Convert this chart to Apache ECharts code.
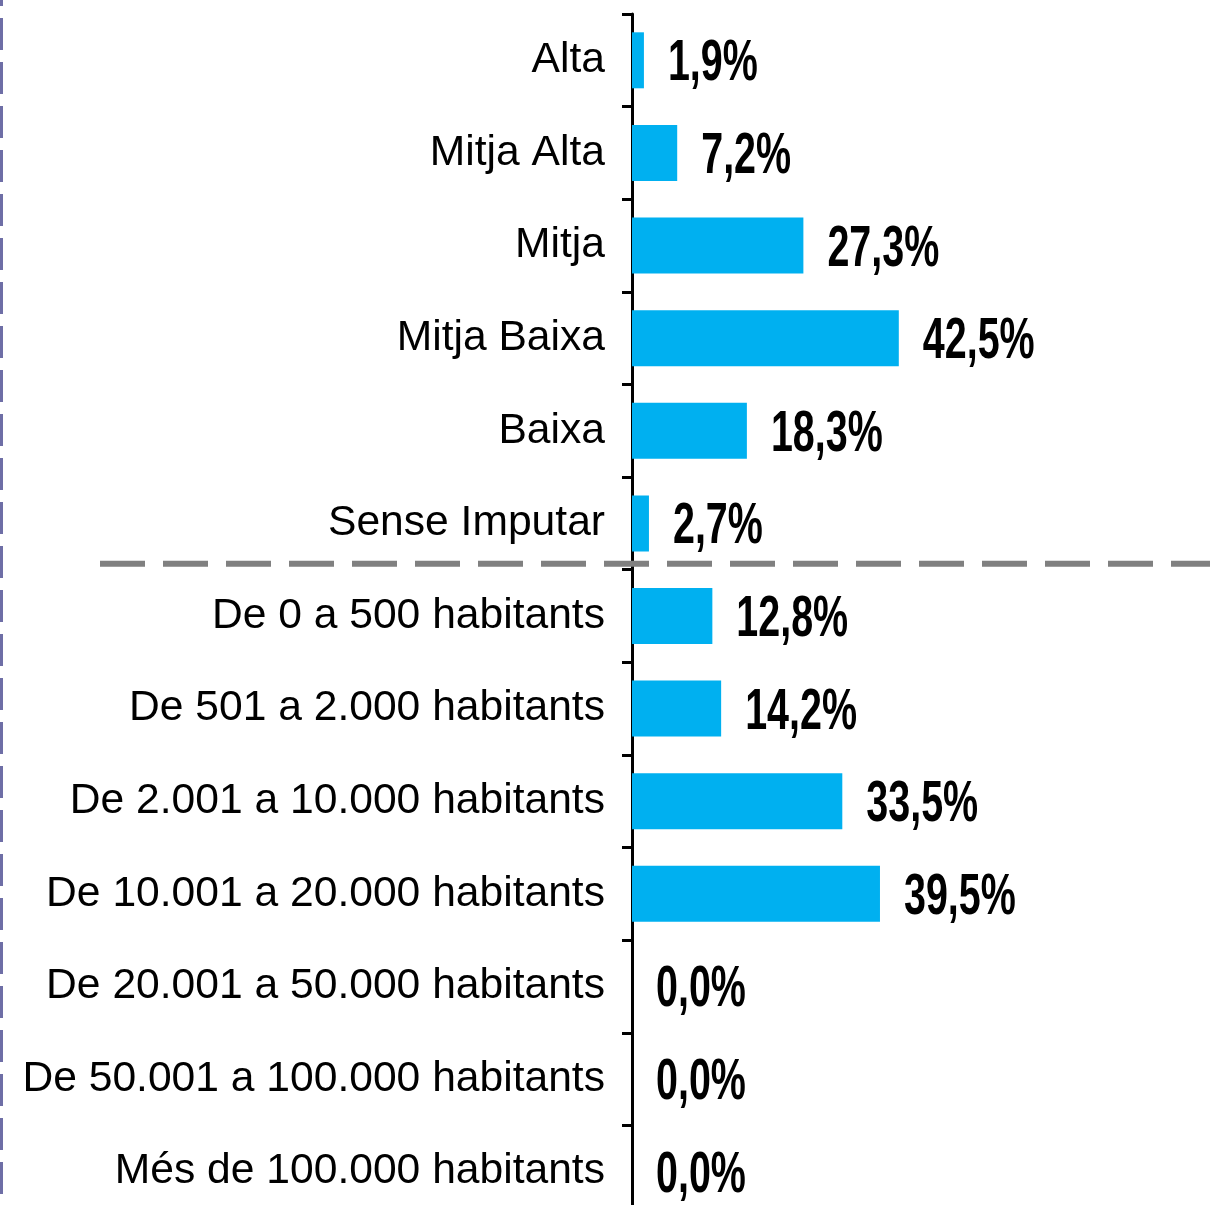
<!DOCTYPE html>
<html>
<head>
<meta charset="utf-8">
<script src="https://cdn.jsdelivr.net/npm/echarts@6/dist/echarts.min.js"></script>
<style>
  html, body { margin: 0; padding: 0; background: #fff; overflow: hidden; }
  #chart { width: 1210px; height: 1240px; }
</style>
</head>
<body>
<div id="chart"></div>
<script>
// categories, top to bottom
var categories = [
  'Alta', 'Mitja Alta', 'Mitja', 'Mitja Baixa', 'Baixa', 'Sense Imputar',
  'De 0 a 500 habitants', 'De 501 a 2.000 habitants', 'De 2.001 a 10.000 habitants',
  'De 10.001 a 20.000 habitants', 'De 20.001 a 50.000 habitants',
  'De 50.001 a 100.000 habitants', 'Més de 100.000 habitants'
];
// percentages
var values = [1.9, 7.2, 27.3, 42.5, 18.3, 2.7, 12.8, 14.2, 33.5, 39.5, 0.0, 0.0, 0.0];

var myChart = echarts.init(document.getElementById('chart'));

function fmt(v) {
  return v.toFixed(1).replace('.', ',') + '%';
}

myChart.setOption({
  animation: false,
  // the plot runs a little past the bottom of the window, as in the original
  grid: { left: 632, right: 13, top: 14, height: 1204 },
  xAxis: { type: 'value', min: 0, max: 90, show: false },
  yAxis: {
    type: 'category',
    inverse: true,
    data: categories,
    axisLine: { show: true, lineStyle: { color: '#000', width: 3 } },
    axisTick: { show: true, length: 10, lineStyle: { color: '#000', width: 3 } },
    axisLabel: {
      margin: 27,
      color: '#000',
      fontSize: 42.6,
      fontFamily: "'Liberation Sans', Arial, sans-serif",
      padding: [0, 0, 10, 0]
    }
  },
  series: [
    {
      type: 'bar',
      data: values,
      barWidth: 56,
      itemStyle: { color: '#00B0F0' }
    },
    {
      // value labels in a narrow bold face (scaled horizontally)
      type: 'custom',
      data: values.map(function (v, i) { return [v, i]; }),
      encode: { x: 0, y: 1 },
      renderItem: function (params, api) {
        var pt = api.coord([api.value(0), api.value(1)]);
        return {
          type: 'text',
          x: pt[0] + 24,
          y: pt[1] + 4,
          scaleX: 0.68,
          style: {
            text: fmt(api.value(0)),
            fill: '#000',
            fontSize: 58,
            fontWeight: 'bold',
            fontFamily: "'Liberation Sans', Arial, sans-serif",
            textAlign: 'left',
            textVerticalAlign: 'middle'
          }
        };
      },
      z: 5
    }
  ]
});

// separator between the two groups, and the dashed border on the left
var y1 = myChart.convertToPixel({ yAxisIndex: 0 }, 'Sense Imputar');
var y2 = myChart.convertToPixel({ yAxisIndex: 0 }, 'De 0 a 500 habitants');
var sepY = (y1 + y2) / 2 - 6;

myChart.setOption({
  graphic: [
    {
      type: 'line',
      shape: { x1: 100, y1: sepY, x2: 1210, y2: sepY },
      style: { stroke: '#808080', lineWidth: 6, lineDash: [45, 18] },
      z: 100
    },
    {
      type: 'line',
      shape: { x1: 1.5, y1: -26, x2: 1.5, y2: 1240 },
      style: { stroke: '#6E6EA6', lineWidth: 3, lineDash: [32, 12] },
      z: 100
    }
  ]
});
</script>
</body>
</html>
